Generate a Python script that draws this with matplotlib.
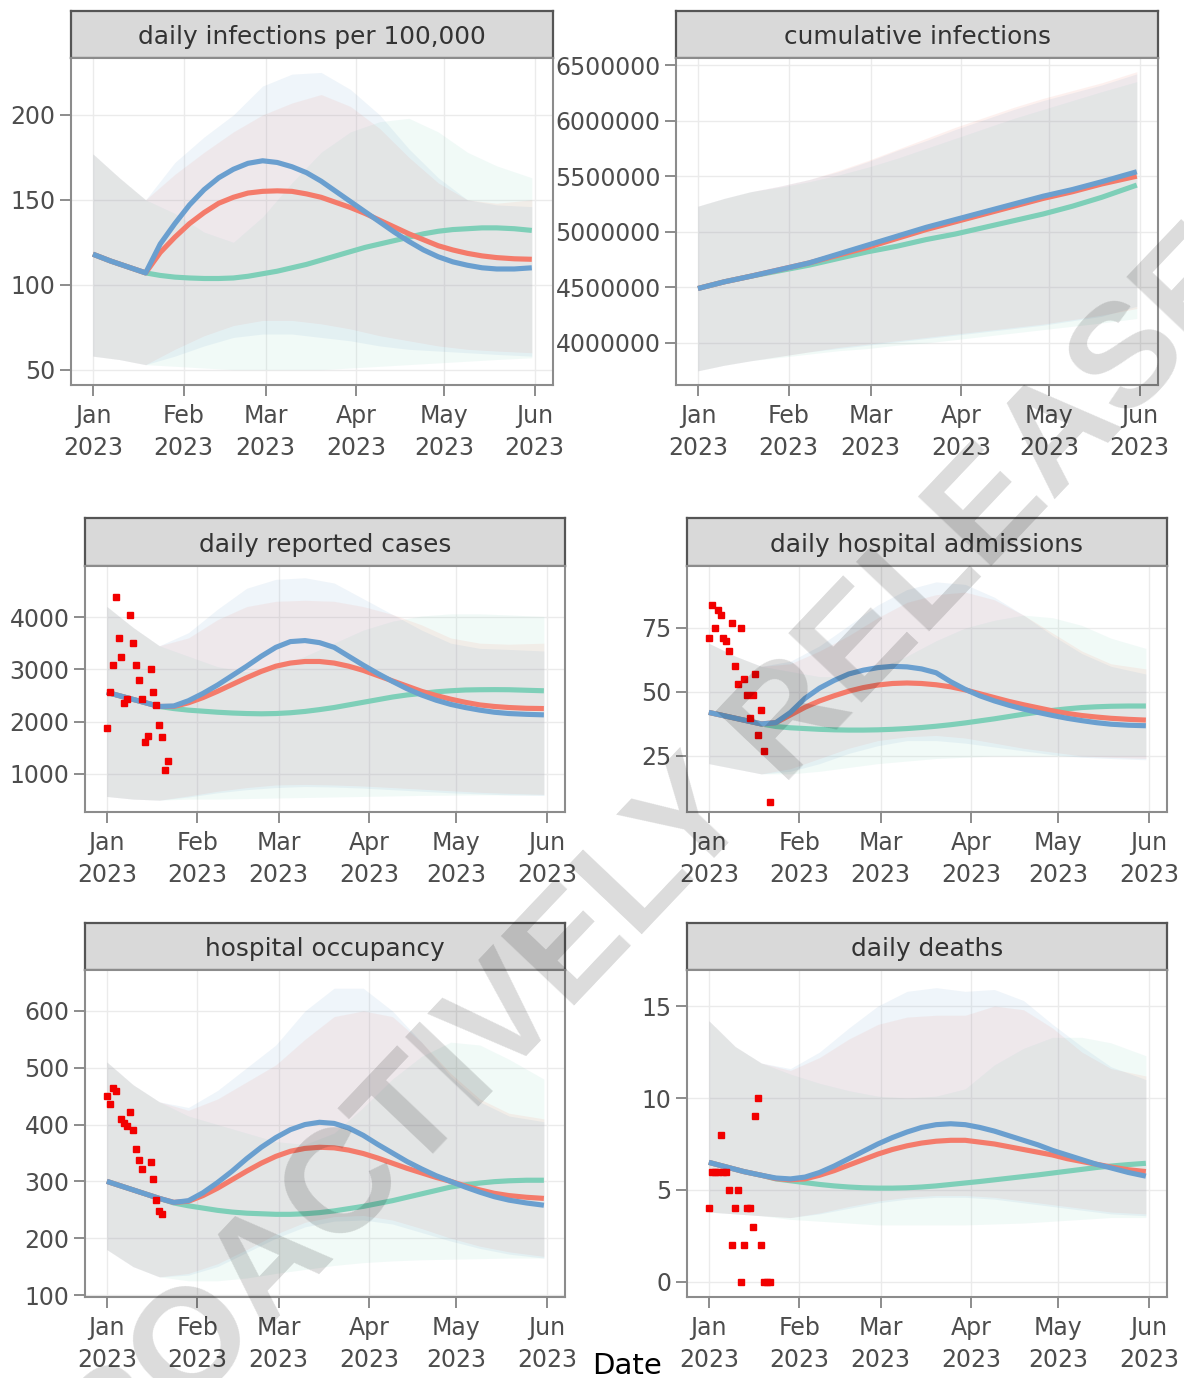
import matplotlib
matplotlib.use("Agg")
import matplotlib.pyplot as plt
import numpy as np
from matplotlib.ticker import FuncFormatter

W, H = 1184, 1378
START = np.datetime64("2023-01-01")

BAND_DAYS = [0, 9, 18, 28, 38, 48, 58, 68, 78, 88, 98, 108, 118, 128, 138, 150]
MED_DAYS = [0, 6, 12, 18, 23, 28, 33, 38, 43, 48, 53, 58, 63, 68, 73, 78, 83, 88, 93, 98,
            103, 108, 113, 118, 123, 128, 133, 138, 144, 150]

MONTH_TICKS = ["2023-01-01", "2023-02-01", "2023-03-01", "2023-04-01", "2023-05-01", "2023-06-01"]
MONTH_LABELS = ["Jan\n2023", "Feb\n2023", "Mar\n2023", "Apr\n2023", "May\n2023", "Jun\n2023"]

# daily infections per 100,000
INF_MED_BLUE = [118, 114, 110.5, 107, 124, 136, 147, 156, 163, 168, 171.5, 173, 172, 169.5, 166, 161,
                155, 149, 143, 137, 131, 125.5, 120.5, 116.5, 113.5, 111.5, 110, 109.3, 109.3, 110]
INF_MED_RED = [118, 114, 110.5, 107, 119, 128, 136, 142.5, 148, 151.5, 154, 155, 155.3, 155, 153.5, 151.5,
               148.5, 145.5, 142, 138, 134, 130, 126.5, 123, 120.5, 118.5, 117, 116, 115.3, 115]
INF_MED_GREEN = [118, 114, 110.5, 107, 105.5, 104.5, 104, 103.7, 103.7, 104, 105, 106.5, 108, 110, 112, 114.5,
                 117, 119.5, 122, 124, 126, 128, 130, 131.5, 132.5, 133, 133.5, 133.5, 133, 132]
INF_HI_BLUE = [177, 163, 150, 172, 187, 200, 217, 224, 225, 215, 200, 180, 163, 150, 147, 146]
INF_HI_RED = [177, 163, 150, 165, 178, 190, 200, 207, 212, 205, 192, 175, 160, 150, 148, 150]
INF_HI_GREEN = [177, 163, 150, 142, 131, 125, 140, 160, 178, 190, 196, 198, 190, 178, 170, 163]
INF_LO_BLUE = [58, 56, 53, 58, 64, 69, 71, 71, 69, 67, 64, 62, 61, 60, 59, 58]
INF_LO_RED = [58, 56, 53, 62, 70, 76, 79, 79, 77, 74, 70, 67, 64, 62, 61, 60]
INF_LO_GREEN = [58, 56, 53, 52, 51, 50, 50, 50, 50, 51, 52, 53, 54, 55, 56, 57]
INF_TICKS = [50, 100, 150, 200]

# cumulative infections (read at BAND_DAYS)
CUM_MED_BLUE = [4.49e6, 4.55e6, 4.60e6, 4.66e6, 4.72e6, 4.80e6, 4.88e6, 4.96e6, 5.04e6, 5.11e6, 5.18e6, 5.25e6, 5.32e6, 5.38e6, 5.45e6, 5.54e6]
CUM_MED_RED = [4.49e6, 4.55e6, 4.60e6, 4.66e6, 4.72e6, 4.79e6, 4.86e6, 4.94e6, 5.02e6, 5.09e6, 5.16e6, 5.23e6, 5.30e6, 5.36e6, 5.43e6, 5.50e6]
CUM_MED_GREEN = [4.49e6, 4.55e6, 4.60e6, 4.65e6, 4.70e6, 4.76e6, 4.82e6, 4.87e6, 4.93e6, 4.98e6, 5.04e6, 5.10e6, 5.16e6, 5.23e6, 5.31e6, 5.42e6]
CUM_HI_BLUE = [5.23e6, 5.30e6, 5.36e6, 5.41e6, 5.47e6, 5.54e6, 5.63e6, 5.73e6, 5.82e6, 5.92e6, 6.01e6, 6.10e6, 6.18e6, 6.25e6, 6.32e6, 6.42e6]
CUM_HI_RED = [5.23e6, 5.30e6, 5.36e6, 5.41e6, 5.47e6, 5.55e6, 5.64e6, 5.74e6, 5.84e6, 5.94e6, 6.03e6, 6.12e6, 6.20e6, 6.27e6, 6.34e6, 6.44e6]
CUM_HI_GREEN = [5.23e6, 5.30e6, 5.36e6, 5.40e6, 5.45e6, 5.51e6, 5.58e6, 5.66e6, 5.75e6, 5.84e6, 5.93e6, 6.02e6, 6.10e6, 6.18e6, 6.26e6, 6.35e6]
CUM_LO_BLUE = [3.75e6, 3.80e6, 3.84e6, 3.88e6, 3.92e6, 3.95e6, 3.98e6, 4.01e6, 4.04e6, 4.07e6, 4.10e6, 4.13e6, 4.16e6, 4.20e6, 4.24e6, 4.33e6]
CUM_LO_RED = [3.75e6, 3.80e6, 3.84e6, 3.88e6, 3.92e6, 3.96e6, 3.99e6, 4.02e6, 4.05e6, 4.08e6, 4.11e6, 4.14e6, 4.17e6, 4.21e6, 4.25e6, 4.31e6]
CUM_LO_GREEN = [3.75e6, 3.80e6, 3.84e6, 3.87e6, 3.90e6, 3.93e6, 3.95e6, 3.98e6, 4.00e6, 4.03e6, 4.06e6, 4.09e6, 4.12e6, 4.15e6, 4.18e6, 4.22e6]
CUM_TICKS = [4000000, 4500000, 5000000, 5500000, 6000000, 6500000]

# daily reported cases
CASES_MED_BLUE = [2560, 2470, 2380, 2290, 2300, 2400, 2540, 2700, 2880, 3060, 3250, 3420, 3530, 3550, 3510, 3420,
                  3250, 3080, 2920, 2770, 2630, 2510, 2410, 2330, 2270, 2220, 2180, 2155, 2140, 2130]
CASES_MED_RED = [2560, 2470, 2380, 2290, 2290, 2360, 2460, 2580, 2710, 2840, 2960, 3060, 3120, 3150, 3150, 3120,
                 3060, 2980, 2880, 2780, 2680, 2580, 2500, 2430, 2370, 2320, 2290, 2270, 2255, 2250]
CASES_MED_GREEN = [2560, 2470, 2380, 2290, 2250, 2220, 2200, 2180, 2165, 2155, 2150, 2155, 2170, 2195, 2230, 2270,
                   2320, 2370, 2420, 2470, 2510, 2540, 2570, 2590, 2605, 2610, 2612, 2610, 2600, 2590]
CASES_HI_BLUE = [4200, 3800, 3450, 3700, 4150, 4550, 4720, 4750, 4650, 4350, 4050, 3750, 3500, 3400, 3380, 3350]
CASES_HI_RED = [4200, 3800, 3450, 3600, 3950, 4200, 4300, 4320, 4300, 4200, 4050, 3850, 3600, 3500, 3480, 3500]
CASES_HI_GREEN = [4200, 3800, 3450, 3250, 3050, 2950, 3050, 3250, 3500, 3750, 3920, 4020, 4060, 4060, 4040, 4010]
CASES_LO_BLUE = [570, 520, 500, 560, 640, 700, 740, 760, 750, 730, 700, 670, 640, 620, 600, 590]
CASES_LO_RED = [570, 520, 500, 580, 670, 740, 790, 800, 790, 770, 740, 710, 680, 650, 630, 610]
CASES_LO_GREEN = [570, 520, 500, 520, 520, 530, 540, 550, 560, 570, 580, 590, 595, 600, 600, 600]
CASES_TICKS = [1000, 2000, 3000, 4000]
CASES_OBS_DAYS = list(range(22))
CASES_OBS = [1870, 2570, 3090, 4380, 3590, 3240, 2360, 2430, 4030, 3510, 3090, 2790, 2430, 1620, 1720, 3010,
             2570, 2320, 1940, 1710, 1070, 1240]

# daily hospital admissions
ADM_MED_BLUE = [42, 40.5, 39, 37.5, 38, 42, 47.5, 51.5, 54.5, 57, 58.5, 59.5, 60, 59.8, 59, 57.5,
                54, 51, 48.5, 46.5, 44.8, 43.3, 42, 40.8, 39.7, 38.8, 38, 37.4, 37, 36.8]
ADM_MED_RED = [42, 40.5, 39, 37.5, 38, 41, 44, 46.5, 48.5, 50.3, 51.7, 52.7, 53.3, 53.5, 53.3, 52.8,
               52, 50.8, 49.3, 47.8, 46.3, 45, 43.8, 42.6, 41.6, 40.8, 40.2, 39.7, 39.3, 39]
ADM_MED_GREEN = [42, 40.5, 39, 37.5, 36.5, 36, 35.7, 35.4, 35.2, 35.1, 35.1, 35.2, 35.4, 35.7, 36.1, 36.6,
                 37.2, 37.9, 38.7, 39.5, 40.4, 41.3, 42.1, 42.8, 43.4, 43.9, 44.2, 44.4, 44.5, 44.5]
ADM_HI_BLUE = [69, 64, 60, 62, 68, 76, 84, 90, 93, 92, 87, 80, 72, 65, 60, 57]
ADM_HI_RED = [69, 64, 60, 61, 66, 72, 79, 85, 88, 89, 86, 80, 73, 66, 61, 59]
ADM_HI_GREEN = [69, 64, 60, 58, 56, 56, 59, 64, 70, 75, 78, 80, 79, 76, 71, 67]
ADM_LO_BLUE = [22, 20, 18, 19, 22, 26, 29, 31, 31, 30, 28.5, 27, 25.5, 24.5, 24, 23.5]
ADM_LO_RED = [22, 20, 18, 20, 24, 28, 31, 32.5, 33, 32, 30, 28, 26.5, 25, 24.5, 24]
ADM_LO_GREEN = [22, 20, 18, 18, 19, 20.5, 22, 23, 24, 24.5, 25, 25, 25, 25, 25, 25]
ADM_TICKS = [25, 50, 75]
ADM_OBS_DAYS = [0, 1, 2, 3, 4, 5, 6, 7, 8, 9, 10, 11, 12, 13, 14, 15, 16, 17, 18, 19, 21]
ADM_OBS = [71, 84, 75, 82, 80, 71, 70, 66, 77, 60, 53, 75, 55, 49, 40, 49, 57, 33, 43, 27, 7]

# hospital occupancy
OCC_MED_BLUE = [300, 290, 280, 270, 263, 266, 280, 298, 318, 340, 360, 377, 391, 400, 404, 402,
                394, 381, 365, 350, 335, 322, 310, 300, 290, 281, 273, 267, 262, 258]
OCC_MED_RED = [300, 290, 280, 270, 263, 265, 275, 288, 303, 318, 332, 344, 353, 358, 360, 359,
               355, 349, 341, 332, 323, 315, 307, 300, 292, 285, 279, 275, 272, 270]
OCC_MED_GREEN = [300, 290, 280, 270, 262, 257, 253, 249, 246, 244, 243, 242, 242, 243, 245, 248,
                 252, 256, 261, 266, 272, 278, 284, 290, 294, 297, 299.5, 301, 302, 302]
OCC_HI_BLUE = [510, 470, 440, 430, 460, 500, 540, 600, 640, 640, 600, 545, 485, 440, 415, 405]
OCC_HI_RED = [510, 470, 440, 425, 445, 475, 505, 550, 590, 600, 590, 545, 490, 445, 420, 410]
OCC_HI_GREEN = [510, 470, 440, 415, 400, 385, 370, 365, 385, 430, 480, 520, 545, 540, 515, 480]
OCC_LO_BLUE = [180, 150, 132, 135, 150, 175, 200, 220, 230, 232, 225, 210, 195, 182, 172, 165]
OCC_LO_RED = [180, 150, 132, 138, 155, 180, 207, 228, 238, 240, 232, 217, 200, 186, 176, 168]
OCC_LO_GREEN = [180, 150, 132, 125, 125, 130, 138, 145, 152, 157, 160, 162, 163, 164, 165, 165]
OCC_TICKS = [100, 200, 300, 400, 500, 600]
OCC_OBS_DAYS = [0, 1, 2, 3, 5, 6, 7, 8, 9, 10, 11, 12, 15, 16, 17, 18, 19]
OCC_OBS = [450, 437, 465, 459, 409, 403, 397, 422, 391, 357, 337, 321, 334, 304, 267, 248, 242]

# daily deaths
DEA_MED_BLUE = [6.5, 6.25, 6.0, 5.8, 5.65, 5.6, 5.7, 5.95, 6.3, 6.7, 7.1, 7.5, 7.85, 8.15, 8.4, 8.55,
                8.6, 8.55, 8.4, 8.2, 7.95, 7.7, 7.45, 7.15, 6.9, 6.65, 6.4, 6.2, 5.95, 5.75]
DEA_MED_RED = [6.5, 6.25, 6.0, 5.8, 5.62, 5.55, 5.6, 5.8, 6.05, 6.35, 6.65, 6.95, 7.2, 7.4, 7.55, 7.65,
               7.7, 7.7, 7.6, 7.5, 7.35, 7.2, 7.05, 6.9, 6.7, 6.55, 6.4, 6.25, 6.1, 6.0]
DEA_MED_GREEN = [6.5, 6.25, 6.0, 5.8, 5.6, 5.5, 5.4, 5.3, 5.22, 5.16, 5.12, 5.1, 5.1, 5.12, 5.16, 5.22,
                 5.3, 5.38, 5.46, 5.55, 5.64, 5.73, 5.82, 5.92, 6.02, 6.12, 6.22, 6.3, 6.38, 6.45]
DEA_HI_BLUE = [14.2, 12.8, 11.9, 11.6, 12.5, 13.8, 15.0, 15.8, 16.0, 15.8, 15.9, 15.3, 14.0, 12.8, 11.7, 11.0]
DEA_HI_RED = [14.2, 12.8, 11.9, 11.5, 12.2, 13.2, 14.0, 14.4, 14.5, 14.5, 15.0, 14.8, 13.8, 12.5, 11.6, 11.2]
DEA_HI_GREEN = [14.2, 12.8, 11.9, 11.3, 10.8, 10.4, 10.1, 10.0, 10.1, 10.5, 11.8, 12.7, 13.3, 13.3, 13.0, 12.3]
DEA_LO_BLUE = [3.8, 3.7, 3.6, 3.5, 3.7, 4.0, 4.3, 4.5, 4.6, 4.6, 4.5, 4.3, 4.1, 3.9, 3.7, 3.6]
DEA_LO_RED = [3.8, 3.7, 3.6, 3.5, 3.75, 4.1, 4.4, 4.6, 4.7, 4.7, 4.6, 4.4, 4.2, 4.0, 3.8, 3.7]
DEA_LO_GREEN = [3.8, 3.7, 3.6, 3.4, 3.3, 3.2, 3.1, 3.1, 3.1, 3.1, 3.15, 3.2, 3.3, 3.4, 3.5, 3.5]
DEA_TICKS = [0, 5, 10, 15]
DEA_OBS_DAYS = list(range(22))
DEA_OBS = [4, 6, 6, 6, 8, 6, 6, 5, 2, 4, 5, 0, 2, 4, 4, 3, 9, 10, 2, 0, 0, 0]

BLUE = "#6a9fcf"
RED = "#f47b6b"
GREEN = "#7ecfb8"
OBS_RED = "#f20000"
TEXT_GREY = "#4d4d4d"
BORDER_GREY = "#8c8c8c"

plt.rcParams["font.family"] = ["DejaVu Sans"]


def to_dates(days):
    return START + np.asarray(days).astype("timedelta64[D]")


def px_axes(fig, x0, x1, y0, y1):
    # pixel box measured from the top-left corner
    return fig.add_axes([x0 / W, 1 - y1 / H, (x1 - x0) / W, (y1 - y0) / H])


def add_strip(fig, x0, x1, y0, y1, title):
    sax = px_axes(fig, x0, x1, y0, y1)
    sax.set_facecolor("#d9d9d9")
    sax.set_xticks([])
    sax.set_yticks([])
    for spine in sax.spines.values():
        spine.set_color("#555555")
        spine.set_linewidth(1.6)
    sax.text(0.5, 0.44, title, transform=sax.transAxes, ha="center", va="center",
             fontsize=17.8, color="#333333")


def draw_panel(fig, box, strip_top, title, med_days, med, hi, lo, yticks, ylim,
               band_days=BAND_DAYS, obs_days=None, obs=None, plain=False):
    x0, x1, y0, y1 = box
    add_strip(fig, x0, x1, strip_top, y0, title)
    ax = px_axes(fig, x0, x1, y0, y1)
    bdates = to_dates(band_days)
    mdates_ = to_dates(med_days)

    # ribbons: green, red, blue stacked with low alpha -> grey where all overlap
    for c, h, l in [(GREEN, hi[2], lo[2]), (RED, hi[1], lo[1]), (BLUE, hi[0], lo[0])]:
        ax.fill_between(bdates, l, h, color=c, alpha=0.1, linewidth=0)
    for c, m in [(GREEN, med[2]), (RED, med[1]), (BLUE, med[0])]:
        ax.plot(mdates_, m, color=c, linewidth=3.7, solid_capstyle="butt",
                solid_joinstyle="round", zorder=3)
    if obs is not None:
        ax.plot(to_dates(obs_days), obs, linestyle="none", marker="s", markersize=4.3,
                color=OBS_RED, zorder=4)

    ax.set_xlim(START - np.timedelta64(180, "h"), np.datetime64("2023-06-01") + np.timedelta64(150, "h"))
    ax.set_ylim(*ylim)
    ax.set_xticks(np.array(MONTH_TICKS, dtype="datetime64[D]"))
    ax.set_xticklabels(MONTH_LABELS, linespacing=1.42)
    ax.set_yticks(yticks)
    if plain:
        ax.yaxis.set_major_formatter(FuncFormatter(lambda v, _: f"{v:.0f}"))
    ax.grid(color="#ebebeb", linewidth=1.0)
    ax.set_axisbelow(True)
    ax.tick_params(direction="out", length=8, width=1.4, color=BORDER_GREY,
                   labelcolor=TEXT_GREY, labelsize=17, pad=3)
    ax.tick_params(axis="x", pad=6)
    for spine in ax.spines.values():
        spine.set_color(BORDER_GREY)
        spine.set_linewidth(1.5)
    return ax


def main():
    fig = plt.figure(figsize=(W / 100, H / 100), dpi=100)

    draw_panel(fig, (71, 553, 58, 385), 11, "daily infections per 100,000", MED_DAYS,
               [INF_MED_BLUE, INF_MED_RED, INF_MED_GREEN],
               [INF_HI_BLUE, INF_HI_RED, INF_HI_GREEN],
               [INF_LO_BLUE, INF_LO_RED, INF_LO_GREEN],
               INF_TICKS, (41, 233.5))
    draw_panel(fig, (676, 1158, 58, 385), 11, "cumulative infections", BAND_DAYS,
               [CUM_MED_BLUE, CUM_MED_RED, CUM_MED_GREEN],
               [CUM_HI_BLUE, CUM_HI_RED, CUM_HI_GREEN],
               [CUM_LO_BLUE, CUM_LO_RED, CUM_LO_GREEN],
               CUM_TICKS, (3.622e6, 6.563e6), plain=True)
    draw_panel(fig, (85, 565, 566, 812), 518, "daily reported cases", MED_DAYS,
               [CASES_MED_BLUE, CASES_MED_RED, CASES_MED_GREEN],
               [CASES_HI_BLUE, CASES_HI_RED, CASES_HI_GREEN],
               [CASES_LO_BLUE, CASES_LO_RED, CASES_LO_GREEN],
               CASES_TICKS, (273, 4975), obs_days=CASES_OBS_DAYS, obs=CASES_OBS)
    draw_panel(fig, (687, 1167, 566, 812), 518, "daily hospital admissions", MED_DAYS,
               [ADM_MED_BLUE, ADM_MED_RED, ADM_MED_GREEN],
               [ADM_HI_BLUE, ADM_HI_RED, ADM_HI_GREEN],
               [ADM_LO_BLUE, ADM_LO_RED, ADM_LO_GREEN],
               ADM_TICKS, (3.1, 99.2), obs_days=ADM_OBS_DAYS, obs=ADM_OBS)
    draw_panel(fig, (85, 565, 970, 1297), 923, "hospital occupancy", MED_DAYS,
               [OCC_MED_BLUE, OCC_MED_RED, OCC_MED_GREEN],
               [OCC_HI_BLUE, OCC_HI_RED, OCC_HI_GREEN],
               [OCC_LO_BLUE, OCC_LO_RED, OCC_LO_GREEN],
               OCC_TICKS, (96.5, 672), obs_days=OCC_OBS_DAYS, obs=OCC_OBS)
    draw_panel(fig, (687, 1167, 970, 1297), 923, "daily deaths", MED_DAYS,
               [DEA_MED_BLUE, DEA_MED_RED, DEA_MED_GREEN],
               [DEA_HI_BLUE, DEA_HI_RED, DEA_HI_GREEN],
               [DEA_LO_BLUE, DEA_LO_RED, DEA_LO_GREEN],
               DEA_TICKS, (-0.82, 16.96), obs_days=DEA_OBS_DAYS, obs=DEA_OBS)

    fig.text(627 / W, 1 - 1366 / H, "Date", ha="center", va="center", fontsize=21, color="black")

    # diagonal watermark
    fig.text(662 / W, 1 - 858 / H, "PROACTIVELY RELEASED", rotation=46.5, ha="center", va="center",
             fontsize=106, fontweight="bold", color="black", alpha=0.14,
             family=["Liberation Sans", "DejaVu Sans"], zorder=10)

    fig.savefig("out.png", dpi=100)
    plt.close(fig)


if __name__ == "__main__":
    main()
